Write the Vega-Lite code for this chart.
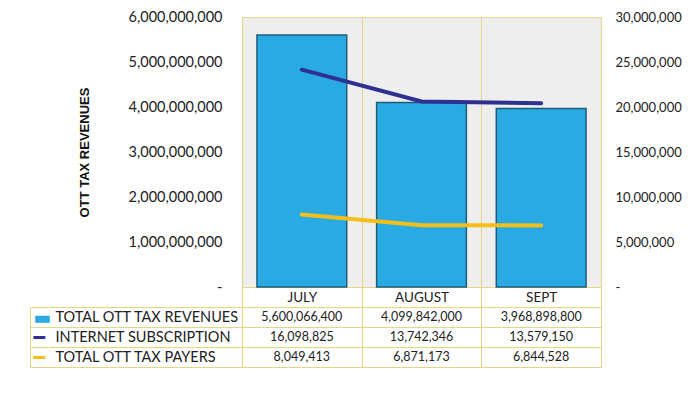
{
  "$schema": "https://vega.github.io/schema/vega-lite/v6.json",
  "padding": {"left": 29, "top": 8, "right": 5, "bottom": 5},
  "background": "white",
  "spacing": 20,
  "bounds": "flush",
  "config": {"font": "Lato", "view": {"stroke": null}},
  "datasets": {
    "t": [
      {"month": "JULY", "series": "TOTAL OTT TAX REVENUES", "value": 5600066400},
      {"month": "AUGUST", "series": "TOTAL OTT TAX REVENUES", "value": 4099842000},
      {"month": "SEPT", "series": "TOTAL OTT TAX REVENUES", "value": 3968898800},
      {"month": "JULY", "series": "INTERNET SUBSCRIPTION", "value": 16098825},
      {"month": "AUGUST", "series": "INTERNET SUBSCRIPTION", "value": 13742346},
      {"month": "SEPT", "series": "INTERNET SUBSCRIPTION", "value": 13579150},
      {"month": "JULY", "series": "TOTAL OTT TAX PAYERS", "value": 8049413},
      {"month": "AUGUST", "series": "TOTAL OTT TAX PAYERS", "value": 6871173},
      {"month": "SEPT", "series": "TOTAL OTT TAX PAYERS", "value": 6844528}
    ]
  },
  "vconcat": [
    {
      "width": 359,
      "height": 270,
      "data": {"name": "t"},
      "view": {"fill": "#eeeeee", "stroke": "#e3d68a"},
      "layer": [
        {
          "transform": [{"filter": "datum.series === 'TOTAL OTT TAX REVENUES'"}],
          "mark": {"type": "bar", "width": {"band": 0.75}, "fill": "#2aaae2", "stroke": "#1d5d7c", "strokeWidth": 1.5},
          "encoding": {
            "x": {
              "field": "month", "type": "nominal", "sort": ["JULY", "AUGUST", "SEPT"],
              "scale": {"paddingInner": 0, "paddingOuter": 0},
              "axis": {
                "title": null, "orient": "bottom", "labelAngle": 0, "labelFontSize": 13.5, "labelColor": "#222222",
                "labelPadding": -17, "tickBand": "extent", "tickSize": 20, "tickColor": "#e3d68a",
                "domain": false, "grid": true, "gridColor": "#e3d68a"
              }
            },
            "y": {
              "field": "value", "type": "quantitative",
              "scale": {"domain": [0, 6000000000], "nice": false},
              "axis": {
                "title": "OTT TAX REVENUES", "titleFont": "Liberation Sans", "titleFontWeight": "bold",
                "titleFontSize": 13, "titleColor": "#111111", "titlePadding": 37,
                "values": [0, 1000000000, 2000000000, 3000000000, 4000000000, 5000000000, 6000000000],
                "labelExpr": "datum.value == 0 ? '-' : format(datum.value, ',')",
                "labelFontSize": 14.5, "labelColor": "#222222", "labelPadding": 20,
                "ticks": false, "domain": false, "grid": false
              }
            }
          }
        },
        {
          "transform": [
            {"filter": "datum.series !== 'TOTAL OTT TAX REVENUES'"},
            {"stack": "value", "groupby": ["month"], "sort": [{"field": "series", "order": "descending"}], "as": ["v0", "v1"]}
          ],
          "mark": {"type": "line", "strokeWidth": 4, "strokeCap": "round"},
          "encoding": {
            "x": {
              "field": "month", "type": "nominal", "sort": ["JULY", "AUGUST", "SEPT"],
              "axis": {
                "title": null, "orient": "bottom", "labelAngle": 0, "labelFontSize": 13.5, "labelColor": "#222222",
                "labelPadding": -17, "tickBand": "extent", "tickSize": 20, "tickColor": "#e3d68a",
                "domain": false, "grid": true, "gridColor": "#e3d68a"
              }
            },
            "y": {
              "field": "v1", "type": "quantitative",
              "scale": {"domain": [0, 30000000], "nice": false},
              "axis": {
                "title": null, "orient": "right",
                "values": [0, 5000000, 10000000, 15000000, 20000000, 25000000, 30000000],
                "labelExpr": "datum.value == 0 ? ' -' : format(datum.value, ',')",
                "labelFontSize": 13, "labelColor": "#222222", "labelPadding": 14,
                "ticks": false, "domain": false, "grid": false
              }
            },
            "color": {
              "field": "series", "type": "nominal",
              "scale": {"domain": ["INTERNET SUBSCRIPTION", "TOTAL OTT TAX PAYERS"], "range": ["#2e3192", "#f5bf19"]},
              "legend": null
            }
          }
        }
      ],
      "resolve": {"scale": {"y": "independent"}}
    },
    {
      "width": 359,
      "height": 60,
      "data": {"name": "t"},
      "view": {"fill": "white", "stroke": "#e3d68a"},
      "layer": [
        {
          "mark": {"type": "text", "fontSize": 12.5, "color": "#222222"},
          "encoding": {
            "x": {
              "field": "month", "type": "nominal", "sort": ["JULY", "AUGUST", "SEPT"],
              "scale": {"paddingInner": 0, "paddingOuter": 0},
              "axis": {"title": null, "labels": false, "ticks": false, "domain": false, "grid": true, "gridColor": "#e3d68a", "tickBand": "extent"}
            },
            "y": {
              "field": "series", "type": "nominal",
              "sort": ["TOTAL OTT TAX REVENUES", "INTERNET SUBSCRIPTION", "TOTAL OTT TAX PAYERS"],
              "axis": {
                "title": null, "orient": "left", "offset": 212,
                "domain": true, "domainColor": "#e3d68a",
                "ticks": true, "tickSize": -212, "tickColor": "#e3d68a", "tickBand": "extent",
                "labelAlign": "left", "labelPadding": 187, "labelFontSize": 14.5, "labelColor": "#222222",
                "labelLimit": 0,
                "labelExpr": "datum.value ? datum.value : ''",
                "grid": false
              }
            },
            "text": {"field": "value", "type": "quantitative", "format": ","}
          }
        },
        {
          "mark": {"type": "text", "opacity": 0},
          "encoding": {
            "y": {
              "field": "series", "type": "nominal",
              "sort": ["TOTAL OTT TAX REVENUES", "INTERNET SUBSCRIPTION", "TOTAL OTT TAX PAYERS"],
              "axis": {
                "title": null, "orient": "left",
                "domain": false, "ticks": false, "grid": true, "gridColor": "#e3d68a", "tickBand": "extent",
                "labelAlign": "left", "labelPadding": 209, "labelFont": "DejaVu Sans", "labelFontSize": 19,
                "labelExpr": "datum.value === 'TOTAL OTT TAX REVENUES' ? '▬' : (datum.value === 'INTERNET SUBSCRIPTION' || datum.value === 'TOTAL OTT TAX PAYERS') ? '━' : ''",
                "labelColor": {
                  "condition": [
                    {"test": "datum.value === 'TOTAL OTT TAX REVENUES'", "value": "#2aaae2"},
                    {"test": "datum.value === 'INTERNET SUBSCRIPTION'", "value": "#2e3192"}
                  ],
                  "value": "#f5bf19"
                }
              }
            },
            "text": {"value": ""}
          }
        }
      ],
      "resolve": {"axis": {"y": "independent"}}
    }
  ]
}
